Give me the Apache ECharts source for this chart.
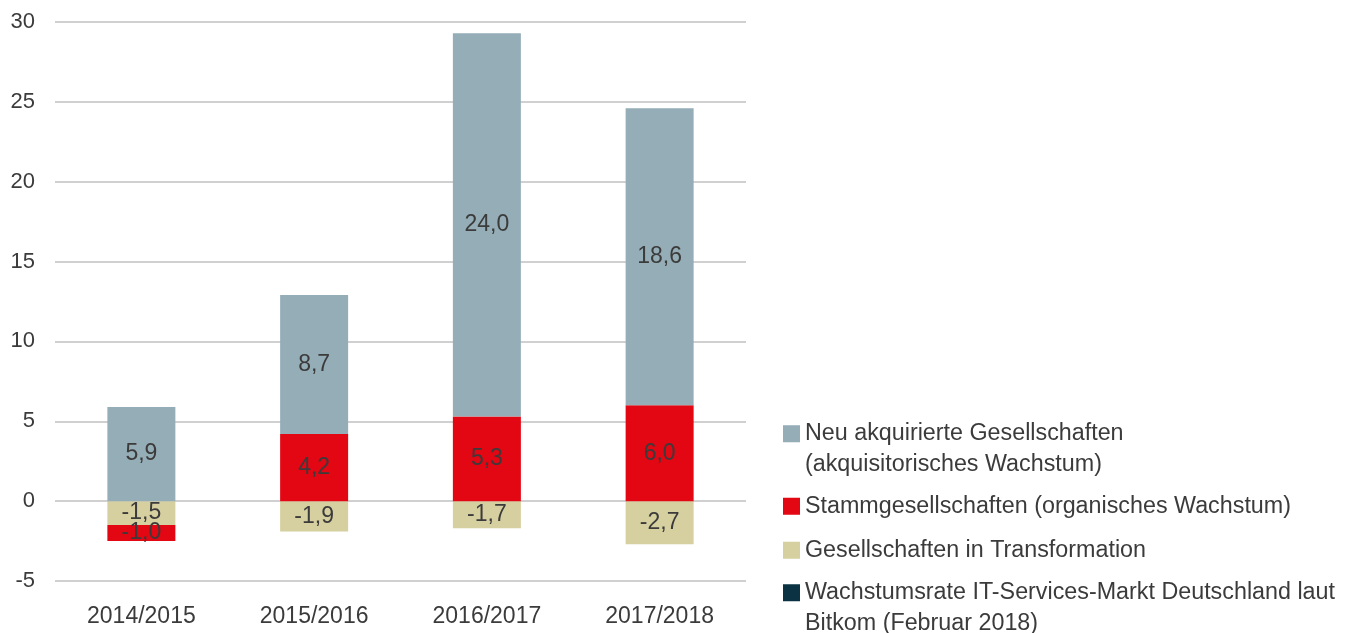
<!DOCTYPE html>
<html>
<head>
<meta charset="utf-8">
<script src="https://cdn.jsdelivr.net/npm/echarts@6/dist/echarts.min.js"></script>
<style>
  html, body { margin: 0; padding: 0; background: #fff; }
  #chart { width: 1358px; height: 633px; }
</style>
</head>
<body>
<div id="chart"></div>
<script>
const categories = ['2014/2015', '2015/2016', '2016/2017', '2017/2018'];
const neuAkquiriert = [5.9, 8.7, 24.0, 18.6];
const stammGesellschaften = [-1.0, 4.2, 5.3, 6.0];
const inTransformation = [-1.5, -1.9, -1.7, -2.7];
const bitkomRate = [];
const yTicks = { min: -5, max: 30, interval: 5 };

const NAME_NEU = 'Neu akquirierte Gesellschaften\n(akquisitorisches Wachstum)';
const NAME_STAMM = 'Stammgesellschaften (organisches Wachstum)';
const NAME_TRANS = 'Gesellschaften in Transformation';
const NAME_BITKOM = 'Wachstumsrate IT-Services-Markt Deutschland laut\nBitkom (Februar 2018)';

const font = '"Liberation Sans", Arial, sans-serif';
const textColor = '#3b3b3b';

const myChart = echarts.init(document.getElementById('chart'));

const fmt = p => p.value.toFixed(1).replace('.', ',');

const barLabel = {
  show: true,
  position: 'inside',
  color: textColor,
  fontSize: 23,
  fontFamily: font,
  formatter: fmt
};

// one legend per item so that each can sit at its own spot;
// two-line names get an empty line on top so the icon sits by the first line
function legendItem(name, iconCenter, twoLines) {
  return {
    data: [name],
    left: 783,
    top: twoLines ? iconCenter - 46 : iconCenter - 15,
    orient: 'vertical',
    padding: 0,
    icon: 'rect',
    itemWidth: 17,
    itemHeight: 17,
    selectedMode: false,
    formatter: n => (twoLines ? ' \n' + n : n),
    textStyle: {
      fontSize: 23.3,
      fontFamily: font,
      color: textColor,
      lineHeight: 30.5
    }
  };
}

const option = {
  animation: false,
  grid: {
    left: 55,
    right: 612,
    top: 22,
    bottom: 52
  },
  legend: [
    legendItem(NAME_NEU, 434, true),
    legendItem(NAME_STAMM, 506, false),
    legendItem(NAME_TRANS, 550, false),
    legendItem(NAME_BITKOM, 593, true)
  ],
  xAxis: {
    type: 'category',
    data: categories,
    axisLine: { show: false },
    axisTick: { show: false },
    axisLabel: {
      color: textColor,
      fontSize: 23,
      fontFamily: font,
      margin: 24
    }
  },
  yAxis: {
    type: 'value',
    min: yTicks.min,
    max: yTicks.max,
    interval: yTicks.interval,
    axisLine: { show: false },
    axisTick: { show: false },
    axisLabel: {
      color: textColor,
      fontSize: 22,
      fontFamily: font,
      margin: 20
    },
    splitLine: {
      lineStyle: { color: '#d0d0d0', width: 2 }
    }
  },
  series: [
    {
      name: NAME_TRANS,
      type: 'bar',
      stack: 'total',
      barWidth: 68,
      itemStyle: { color: '#d6cf9f' },
      label: barLabel,
      data: inTransformation
    },
    {
      name: NAME_STAMM,
      type: 'bar',
      stack: 'total',
      barWidth: 68,
      itemStyle: { color: '#e30613' },
      label: barLabel,
      data: stammGesellschaften
    },
    {
      name: NAME_NEU,
      type: 'bar',
      stack: 'total',
      barWidth: 68,
      itemStyle: { color: '#95adb6' },
      label: barLabel,
      data: neuAkquiriert
    },
    {
      name: NAME_BITKOM,
      type: 'line',
      itemStyle: { color: '#0b3243' },
      lineStyle: { color: '#0b3243' },
      data: bitkomRate
    }
  ]
};

myChart.setOption(option);
</script>
</body>
</html>
